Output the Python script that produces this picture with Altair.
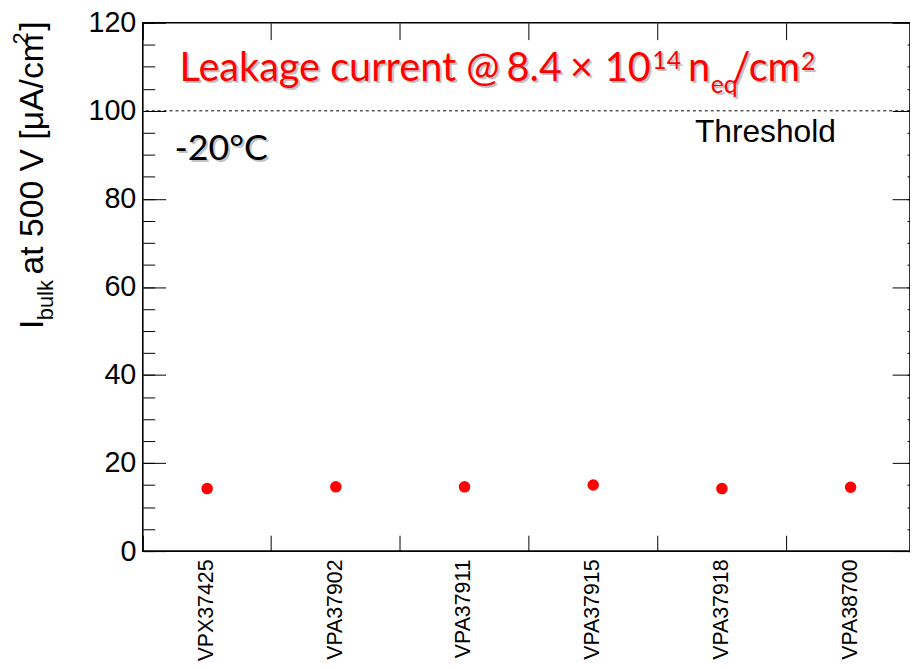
import altair as alt
import pandas as pd

# ---------------- data ----------------
samples = ["VPX37425", "VPA37902", "VPA37911", "VPA37915", "VPA37918", "VPA38700"]
currents = [14.2, 14.6, 14.6, 15.0, 14.2, 14.5]
threshold = [100]
y_major = [0, 20, 40, 60, 80, 100, 120]
y_minor = [0, 5, 10, 15, 20, 25, 30, 35, 40, 45, 50, 55, 60, 65, 70, 75, 80,
           85, 90, 95, 100, 105, 110, 115, 120]

title_parts = ["Leakage current @", "8.4", "\u00d7", "10", "14", "n", "eq", "/cm", "2"]
ytitle_parts = ["I", "bulk", "at 500 V [\u03bcA/cm", "2", "]"]
temp_label = "-20\u00b0C"
thr_label = "Threshold"

df = pd.DataFrame({"sample": samples, "current": currents})
df_thr = pd.DataFrame({"value": threshold})

W, H = 774, 533
xscale = alt.Scale(type="band", domain=samples, range=[0, 779], paddingInner=0, paddingOuter=0)
yscale = alt.Scale(domain=[0, 120], nice=False, zero=True)

AX = "Liberation Sans"


def xenc(axis):
    return alt.X("sample:N", scale=xscale, axis=axis, title=None)


def yenc(axis):
    return alt.Y("current:Q", scale=yscale, axis=axis, title=None)


ax_bottom_labels = alt.Axis(orient="bottom", labelAngle=270, labelFontSize=21.5, labelFont=AX,
                            labelColor="black", ticks=False, domain=False, grid=False,
                            labelPadding=8, bandPosition=0.5)
ax_top_ticks = alt.Axis(orient="top", labels=False, domain=False, grid=False, bandPosition=0,
                        offset=-17, tickSize=17, tickColor="black", tickWidth=1)
ax_bottom_ticks = alt.Axis(orient="bottom", labels=False, domain=False, grid=False, bandPosition=0,
                           offset=-16, tickSize=16, tickColor="black", tickWidth=1)

ay_left_major = alt.Axis(orient="left", values=y_major, offset=-23, tickSize=23, labelPadding=7,
                         labelFontSize=29, labelFont=AX, labelColor="black", domain=False,
                         grid=False, tickColor="black", tickWidth=1)
ay_left_minor = alt.Axis(orient="left", values=y_minor, offset=-12, tickSize=12, labels=False,
                         domain=False, grid=False, tickColor="black", tickWidth=1)
ay_right_major = alt.Axis(orient="right", values=y_major, offset=-18, tickSize=18, labels=False,
                          domain=False, grid=False, tickColor="black", tickWidth=1)
ay_right_minor = alt.Axis(orient="right", values=y_minor, offset=-3, tickSize=3, labels=False,
                          domain=False, grid=False, tickColor="black", tickWidth=1)

points = alt.Chart(df).mark_circle(size=135, color="#ff0000", opacity=1).encode(
    x=xenc(ax_bottom_labels), y=yenc(ay_left_major))
g2 = alt.Chart(df).mark_point(opacity=0).encode(x=xenc(ax_top_ticks), y=yenc(ay_left_minor))
g3 = alt.Chart(df).mark_point(opacity=0).encode(x=xenc(ax_bottom_ticks), y=yenc(ay_right_major))
g4 = alt.Chart(df).mark_point(opacity=0).encode(x=xenc(None), y=yenc(ay_right_minor))

thr_line = alt.Chart(df_thr).mark_rule(color="black", strokeWidth=1, strokeDash=[3, 3]).encode(
    y=alt.Y("value:Q", scale=yscale, axis=None))


def txt(s, x, y, size, font, color="black", angle=0, shadow=False):
    d = pd.DataFrame({"t": [s]})
    layers = []
    if shadow:
        layers.append(alt.Chart(d).mark_text(align="left", baseline="alphabetic", font=font,
                                             fontSize=size, color="#9a9a9a", opacity=0.6,
                                             angle=angle, dx=2, dy=2).encode(
            x=alt.value(x), y=alt.value(y), text="t:N"))
    layers.append(alt.Chart(d).mark_text(align="left", baseline="alphabetic", font=font,
                                         fontSize=size, color=color, angle=angle).encode(
        x=alt.value(x), y=alt.value(y), text="t:N"))
    return layers


RED = "#ff0000"
TF = "Lato"
TS = 40
texts = []
texts += txt(title_parts[0], 37, 59, TS, TF, RED, shadow=True)
texts += txt(title_parts[1], 367, 59, TS, TF, RED, shadow=True)
texts += txt(title_parts[2], 431, 59, TS, TF, RED, shadow=True)
texts += txt(title_parts[3], 466, 59, TS, TF, RED, shadow=True)
texts += txt(title_parts[4], 514, 47, 25, TF, RED, shadow=True)
texts += txt(title_parts[5], 550, 59, TS, TF, RED, shadow=True)
texts += txt(title_parts[6], 573, 71, 25, TF, RED, shadow=True)
texts += txt(title_parts[7], 595, 59, TS, TF, RED, shadow=True)
texts += txt(title_parts[8], 664, 48, 25, TF, RED, shadow=True)
texts += txt(temp_label, 32, 138, 36, TF, "black", shadow=True)
texts += txt(thr_label, 557, 120, 32, AX, "black")

# y-axis title, rotated
texts += txt(ytitle_parts[0], -101, 309, 34, AX, "black", angle=270)
texts += txt(ytitle_parts[1], -91, 300, 22, AX, "black", angle=270)
texts += txt(ytitle_parts[2], -101, 254, 34, AX, "black", angle=270)
texts += txt(ytitle_parts[3], -116, 22, 22, AX, "black", angle=270)
texts += txt(ytitle_parts[4], -101, 8, 34, AX, "black", angle=270)

chart = alt.layer(thr_line, g2, g3, g4, points, *texts).resolve_axis(
    x="independent", y="independent"
).properties(
    width=W, height=H,
    autosize=alt.AutoSizeParams(type="none"),
    padding={"left": 136, "top": 12, "right": 0, "bottom": 110},
    background="white",
).configure_view(stroke="black", strokeWidth=1.6)

chart.save("out.html", embed_options={"renderer": "svg", "actions": False})
